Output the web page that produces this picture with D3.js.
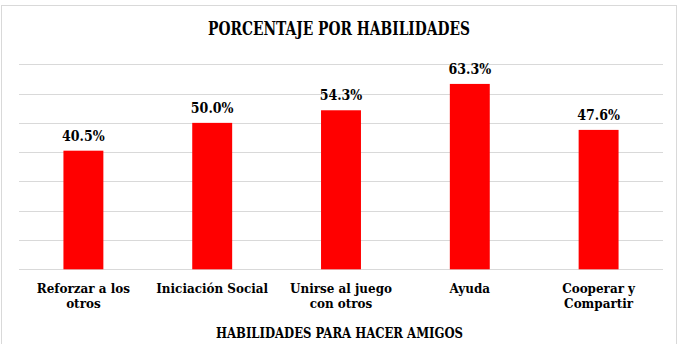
<!DOCTYPE html>
<html>
<head>
<meta charset="utf-8">
<script src="https://cdn.jsdelivr.net/npm/d3@7"></script>
<style>
  body { margin: 0; background: #fff; }
  svg text { font-family: "DejaVu Serif", serif; font-stretch: condensed; font-weight: bold; fill: #000; }
</style>
</head>
<body>
<svg id="chart" width="681" height="344"></svg>
<script>
var categories = [["Reforzar a los", "otros"], ["Iniciación Social"], ["Unirse al juego", "con otros"], ["Ayuda"], ["Cooperar y", "Compartir"]];
var values = [40.5, 50.0, 54.3, 63.3, 47.6];
var yTicks = [0, 10, 20, 30, 40, 50, 60, 70];
var chartTitle = "PORCENTAJE POR HABILIDADES";
var axisTitle = "HABILIDADES PARA HACER AMIGOS";

var svg = d3.select("#chart");
var plotLeft = 19, plotRight = 663, plotTop = 64.3, plotBottom = 269.3;

// outer frame
svg.append("rect").attr("x", 1.5).attr("y", 5.5).attr("width", 675).attr("height", 345)
  .attr("fill", "#fff").attr("stroke", "#d9d9d9").attr("stroke-width", 1);

var x = d3.scaleBand().domain(d3.range(values.length)).range([plotLeft, plotRight]).paddingInner(0.69).paddingOuter(0.345);
var y = d3.scaleLinear().domain([0, 70]).range([plotBottom, plotTop]);

// gridlines
svg.append("g").selectAll("line").data(yTicks).join("line")
  .attr("x1", plotLeft).attr("x2", plotRight)
  .attr("y1", function(d) { return Math.round(y(d)) + 0.5; })
  .attr("y2", function(d) { return Math.round(y(d)) + 0.5; })
  .attr("stroke", "#d9d9d9").attr("stroke-width", 1);

// bars
svg.append("g").selectAll("rect").data(values).join("rect")
  .attr("x", function(d, i) { return x(i); })
  .attr("width", x.bandwidth())
  .attr("y", function(d) { return y(d); })
  .attr("height", function(d) { return y(0) - y(d); })
  .attr("fill", "#ff0000");

// value labels
svg.append("g").selectAll("text").data(values).join("text")
  .attr("x", function(d, i) { return x(i) + x.bandwidth() / 2; })
  .attr("y", function(d) { return y(d) - 10; })
  .attr("text-anchor", "middle")
  .style("font-size", "14px")
  .text(function(d) { return d.toFixed(1) + "%"; });

// category labels
var cat = svg.append("g").selectAll("text").data(categories).join("text")
  .attr("text-anchor", "middle")
  .attr("transform", function(d, i) { return "translate(" + (x(i) + x.bandwidth() / 2) + ",293)"; })
  .style("font-size", "13.3px");
cat.selectAll("tspan").data(function(d) { return d; }).join("tspan")
  .attr("x", 0).attr("dy", function(d, i) { return i ? 15 : 0; })
  .text(function(d) { return d; });

// titles
svg.append("text").attr("x", 339).attr("y", 35).attr("text-anchor", "middle")
  .style("font-size", "18px").attr("textLength", 262).attr("lengthAdjust", "spacingAndGlyphs")
  .text(chartTitle);
svg.append("text").attr("x", 339.5).attr("y", 338).attr("text-anchor", "middle")
  .style("font-size", "15px").attr("textLength", 247).attr("lengthAdjust", "spacingAndGlyphs")
  .text(axisTitle);
</script>
</body>
</html>
